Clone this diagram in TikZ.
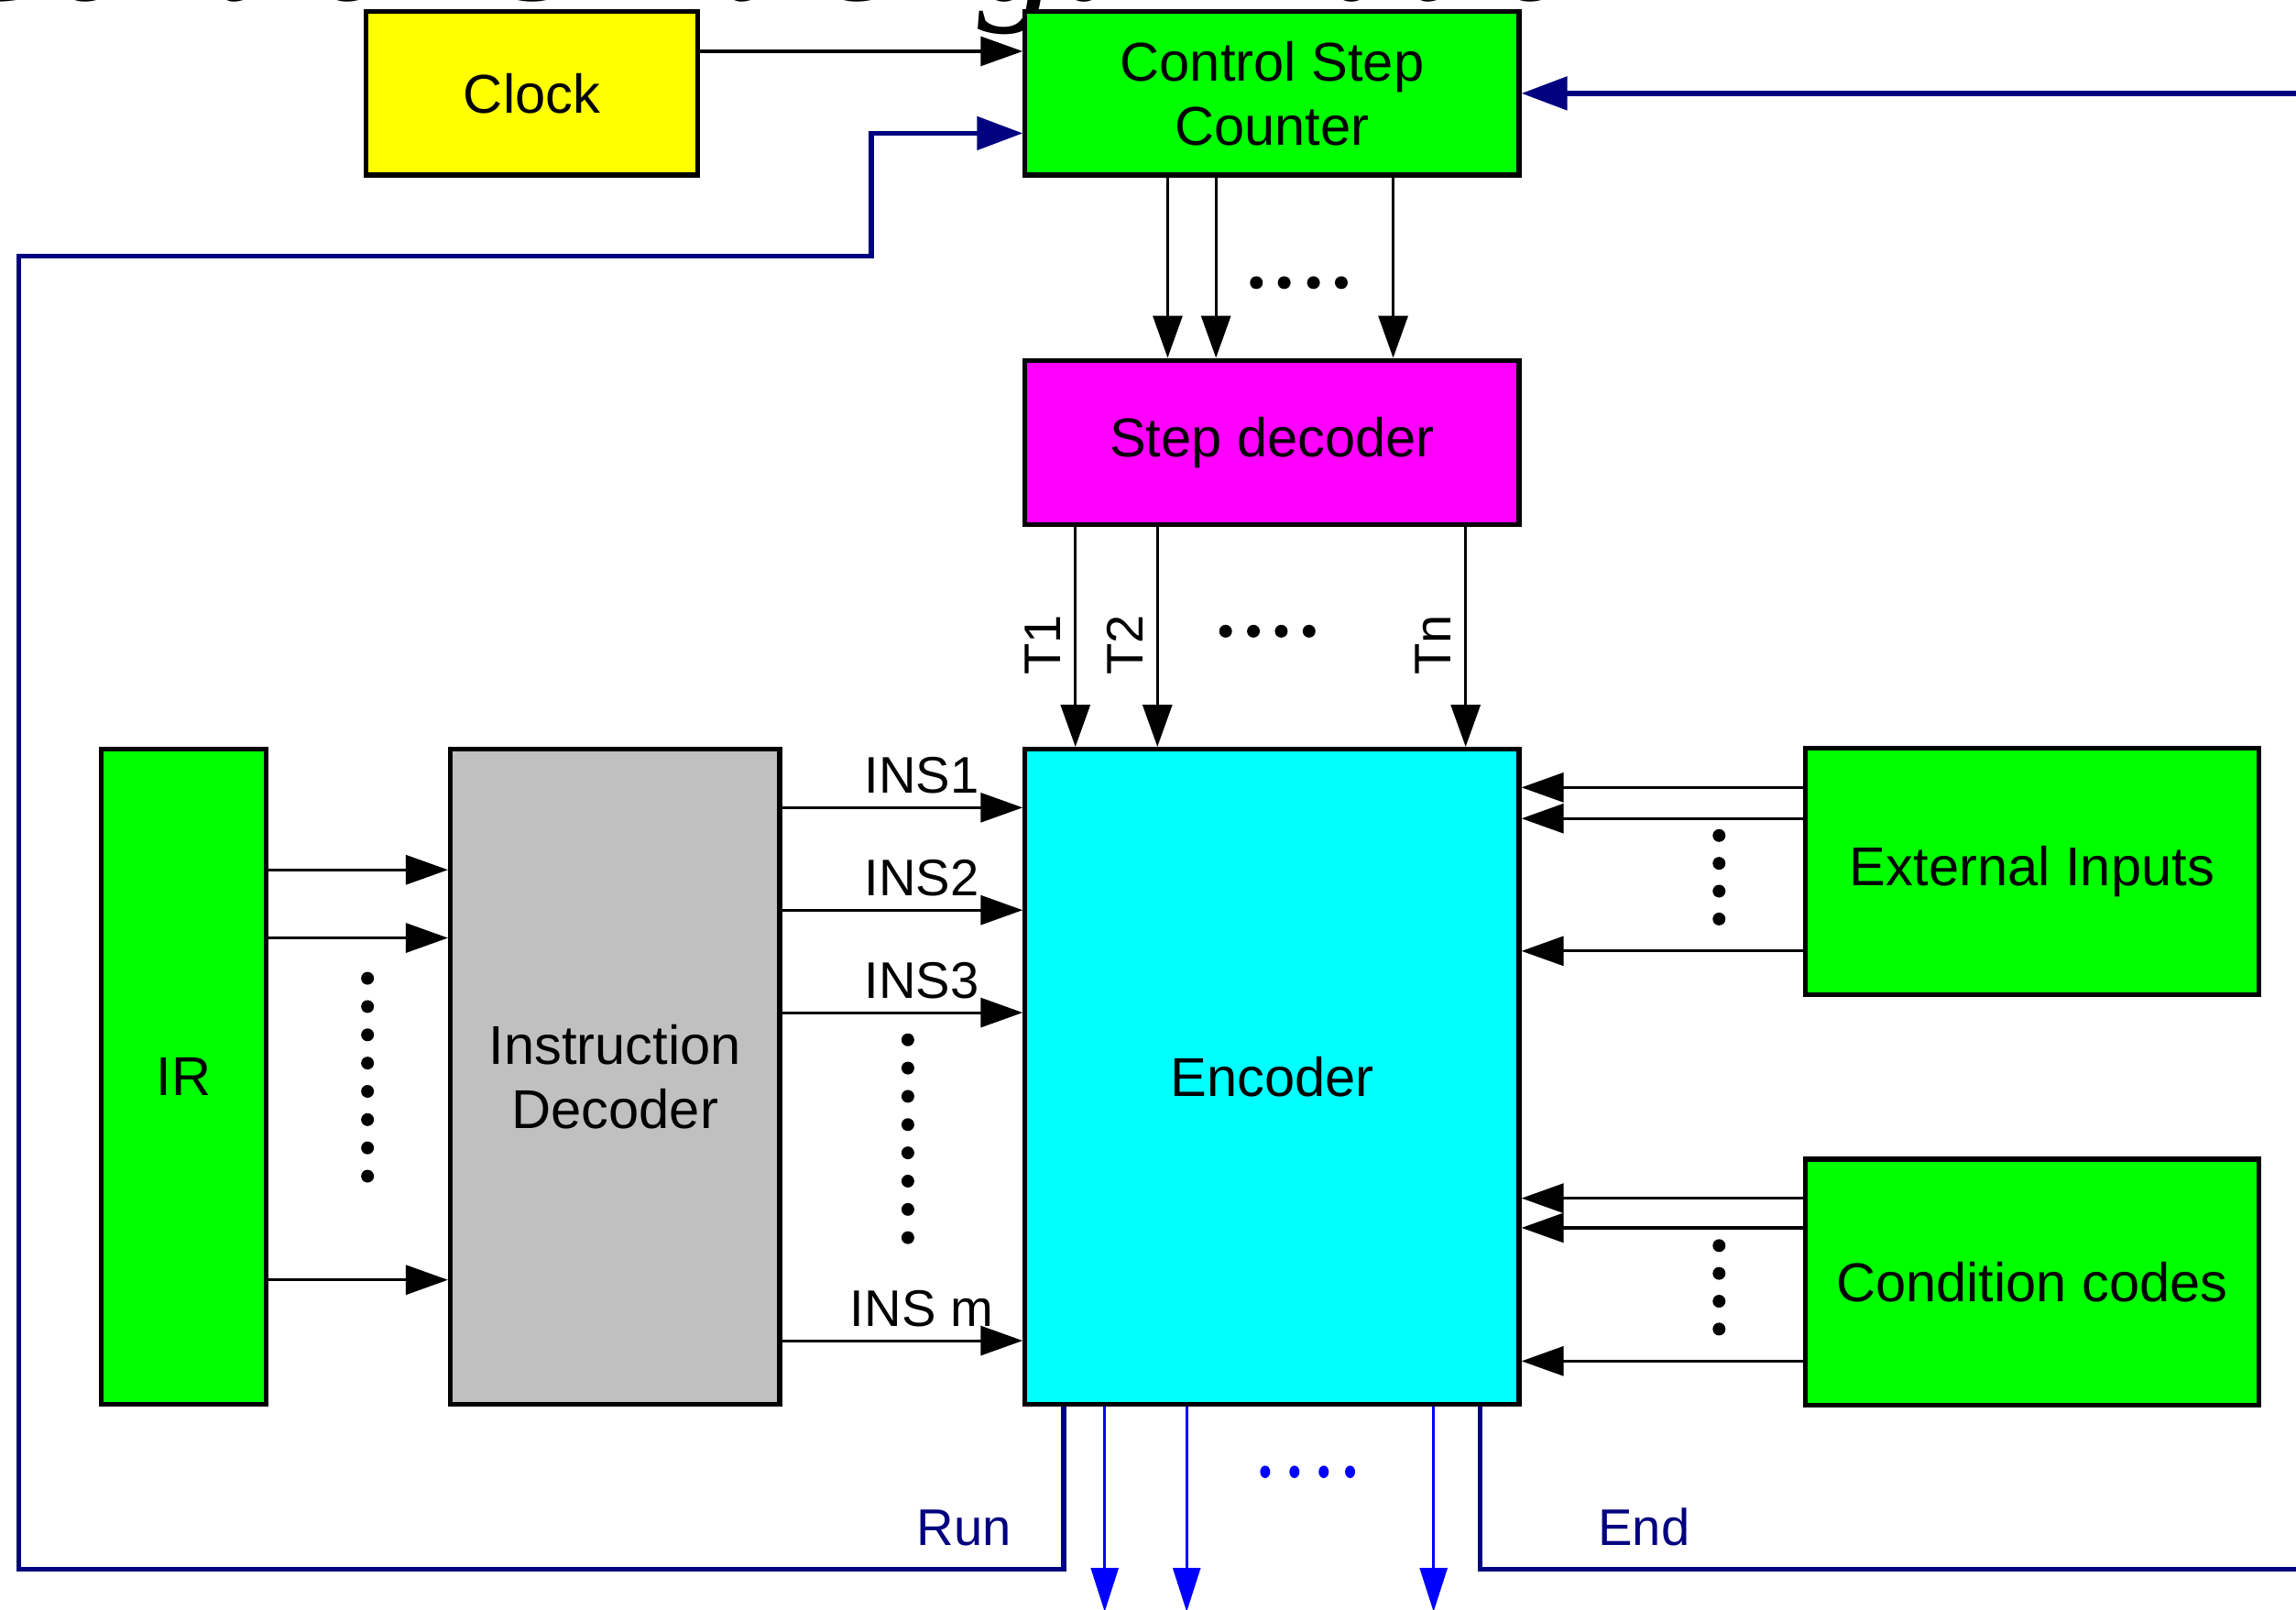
\documentclass[tikz,border=0pt]{standalone}
\usepackage{fontspec}
\setmainfont{Liberation Sans}
\newfontfamily\titlefont{Liberation Serif}
\usepackage{tikz}
\usetikzlibrary{arrows.meta,calc}
\definecolor{Navy}{HTML}{000080}
\definecolor{Blue}{HTML}{0000FF}
\definecolor{Yel}{HTML}{FFFF00}
\definecolor{Green}{HTML}{00FF00}
\definecolor{Magenta}{HTML}{FF00FF}
\definecolor{Cyan}{HTML}{00FFFF}
\definecolor{Grey}{HTML}{C0C0C0}
\tikzset{
  blk/.style={draw,line width=1.5pt,inner sep=0pt,align=center,font=\fontsize{17}{20}\selectfont},
  arr/.style={line width=0.9pt,-{Triangle[length=0.46cm,width=0.32cm]}},
  fb/.style={Navy,line width=1.5pt,-{Triangle[length=0.5cm,width=0.36cm]}},
  outarr/.style={Blue,line width=0.8pt,-{Triangle[length=0.48cm,width=0.3cm]}},
  lbl/.style={font=\fontsize{16}{19}\selectfont,inner sep=0pt},
}

\begin{document}
\begin{tikzpicture}[x=0.016cm,y=-0.016cm]
  \useasboundingbox (0,0) rectangle (1568,1099);
  \node[anchor=base east,inner sep=0pt,font=\titlefont\itshape\fontsize{50}{60}\selectfont] (title) at (1132,0.5) {Control Unit Organization};

  \node[blk,fill=Yel,minimum width=3.624cm,minimum height=1.784cm] (clk) at (363.25,63.75) {Clock};
  \node[blk,fill=Green,minimum width=5.4cm,minimum height=1.784cm] (csc) at (868.75,63.75) {Control Step\\Counter};
  \node[blk,fill=Magenta,minimum width=5.4cm,minimum height=1.792cm] (dec) at (868.75,302) {Step decoder};
  \node[blk,fill=Cyan,minimum width=5.4cm,minimum height=7.16cm] (enc) at (868.75,735.25) {Encoder};
  \node[blk,fill=Green,minimum width=1.808cm,minimum height=7.16cm] (ir) at (125.5,735.25) {IR};
  \node[blk,fill=Grey,minimum width=3.6cm,minimum height=7.16cm] (idec) at (420,735.25) {Instruction\\Decoder};
  \node[blk,fill=Green,minimum width=4.952cm,minimum height=2.688cm] (ext) at (1387.75,595) {External Inputs};
  \node[blk,fill=Green,minimum width=4.952cm,minimum height=2.688cm] (cc) at (1387.75,875.5) {Condition codes};

  \draw[arr] ([shift={(0,-28.75)}]clk.east) -- ([shift={(0,-28.75)}]csc.west);
  \foreach \dx in {99,132,253}
    \draw[arr] ([shift={(\dx,0)}]csc.south west) -- ([shift={(\dx,0)}]dec.north west);
  \foreach \dx/\t [count=\i] in {36/T1,92/T2,302.5/Tn} {
    \draw[arr] ([shift={(\dx,0)}]dec.south west) -- ([shift={(\dx,0)}]enc.north west);
    \node[lbl,rotate=90,anchor=base west] (tl\i) at ([shift={(\dx-10,-48.5)}]enc.north west) {\t};
  }
  \foreach \dy in {84,130.5,364} {
    \coordinate (s) at ([shift={(0,\dy)}]ir.north east);
    \draw[arr] (s) -- (s -| idec.west);
  }
  \foreach \dy/\t [count=\i] in {41.5/INS1,111.5/INS2,181.5/INS3,405.5/INS m} {
    \coordinate (s) at ([shift={(0,\dy)}]idec.north east);
    \draw[arr] (s) -- (s -| enc.west) node[lbl,pos=0.58,anchor=base,yshift=0.16cm] (ins\i) {\t};
  }
  \foreach \dy in {28.3,49.5,140} {
    \coordinate (s) at ([shift={(0,\dy)}]ext.north west);
    \draw[arr] (s) -- (s -| enc.east);
  }
  \foreach \dy in {28.3,48.5,139.5} {
    \coordinate (s) at ([shift={(0,\dy)}]cc.north west);
    \draw[arr] (s) -- (s -| enc.east);
  }

  \draw[fb] ([shift={(28,0)}]enc.south west) |- (12.8,1071.5) |- (595,175) |- ([shift={(0,27.25)}]csc.west);
  \draw[fb] ([shift={(-28.5,0)}]enc.south east) |- (1600,1071.5) |- (csc.east);
  \node[lbl,Navy,anchor=base east] (run) at (691,1055) {Run};
  \node[lbl,Navy,anchor=base west] (end) at (1091,1055) {End};
  \foreach \dx in {56,112,280.6}
    \draw[outarr] ([shift={(\dx,0)}]enc.south west) -- ++(0,140);

  \foreach \x in {858,877,897,916} \fill (\x,193) circle[radius=0.07cm];
  \foreach \x in {837,856,875,894} \fill (\x,431) circle[radius=0.07cm];
  \foreach \k in {0,...,7} \fill (251,668+19.3*\k) circle[radius=0.07cm];
  \foreach \k in {0,...,7} \fill (620,710+19.3*\k) circle[radius=0.07cm];
  \foreach \k in {0,...,3} \fill (1174,570.5+19*\k) circle[radius=0.07cm];
  \foreach \k in {0,...,3} \fill (1174,850.5+19*\k) circle[radius=0.07cm];
  \foreach \x in {864,884,904,922} \fill[Blue] (\x,1005) ellipse[x radius=0.055cm,y radius=0.068cm];
\end{tikzpicture}
\end{document}
